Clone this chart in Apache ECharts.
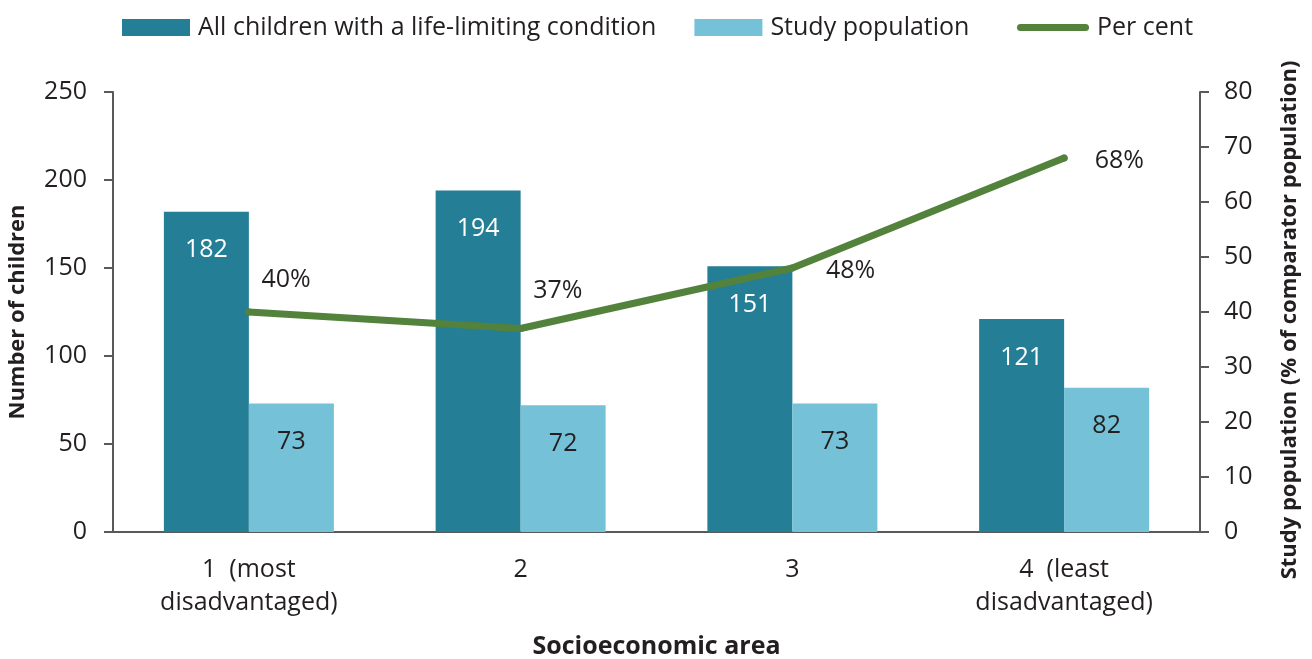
<!DOCTYPE html>
<html lang="en">

<head>
    <meta charset="UTF-8">
    <title>Socioeconomic area</title>
    <style>
        * {
            padding: 0;
            margin: 0;
            box-sizing: border-box;
        }

        html,
        body,
        .chart-container {
            width: 100%;
            height: 100%;
            background: #fff;
        }
    </style>
</head>

<body>
    <div id="chart-container" class="chart-container"></div>
</body>

</html>
<script src="https://cdn.jsdelivr.net/npm/echarts@6/dist/echarts.min.js"></script>

<script>
    // categories and values
    const categories = ['1  (most\ndisadvantaged)', '2', '3', '4  (least\ndisadvantaged)']
    const allChildren = [182, 194, 151, 121]
    const studyPopulation = [73, 72, 73, 82]
    const perCent = [40, 37, 48, 68]

    // per cent label offsets (style only)
    const perCentLabelOffset = [[9, -32], [9, -38], [30, 3], [27, 3]]

    const textColor = '#231f20'
    const axisColor = '#595959'
    const lineColor = '#52823c'
    const font = 'Open Sans'

    var myChart = echarts.init(document.getElementById('chart-container'))

    var legendText = {
        fontFamily: font,
        fontSize: 25,
        color: textColor,
        padding: [0, 0, 0, 3]
    }

    var option = {
        backgroundColor: '#fff',
        textStyle: { fontFamily: font },
        legend: [{
                left: 117,
                top: 10,
                itemWidth: 68,
                itemHeight: 17,
                itemGap: 38,
                textStyle: legendText,
                data: [
                    { name: 'All children with a life-limiting condition', icon: 'rect' },
                    { name: 'Study population', icon: 'rect' }
                ]
            },
            {
                left: 1012,
                top: 10,
                itemWidth: 72,
                itemHeight: 17,
                textStyle: legendText,
                data: [{
                    name: 'Per cent',
                    // thick line with round ends
                    icon: 'path://M3.5,0 L68.5,0 A3.5,3.5 0 0 1 68.5,7 L3.5,7 A3.5,3.5 0 0 1 3.5,0 Z',
                    itemStyle: { color: lineColor }
                }]
            }
        ],
        grid: {
            left: 113,
            right: 112,
            top: 92,
            bottom: 127,
            containLabel: false,
            outerBoundsMode: 'none'
        },
        xAxis: {
            type: 'category',
            data: categories,
            name: 'Socioeconomic area',
            nameLocation: 'middle',
            nameGap: 102,
            nameTextStyle: {
                fontFamily: font,
                fontSize: 25,
                fontWeight: 'bold',
                color: textColor
            },
            axisLine: { lineStyle: { color: axisColor, width: 2 } },
            axisTick: { show: false },
            axisLabel: {
                fontFamily: font,
                fontSize: 25,
                color: textColor,
                lineHeight: 33,
                margin: 21,
                interval: 0
            }
        },
        yAxis: [{
                type: 'value',
                min: 0,
                max: 250,
                interval: 50,
                name: 'Number of children',
                nameLocation: 'middle',
                nameGap: 84,
                nameTextStyle: {
                    fontFamily: font,
                    fontSize: 22,
                    fontWeight: 'bold',
                    color: textColor
                },
                axisLine: { show: true, lineStyle: { color: axisColor, width: 2 } },
                axisTick: { show: true, length: 9, lineStyle: { color: axisColor, width: 2 } },
                axisLabel: {
                    fontFamily: font,
                    fontSize: 25,
                    color: textColor,
                    margin: 26
                },
                splitLine: { show: false }
            },
            {
                type: 'value',
                min: 0,
                max: 80,
                interval: 10,
                position: 'right',
                name: 'Study population (% of comparator population)',
                nameLocation: 'middle',
                nameGap: 79,
                nameTextStyle: {
                    fontFamily: font,
                    fontSize: 22,
                    fontWeight: 'bold',
                    color: textColor,
                    padding: [0, 16, 0, 0]
                },
                axisLine: { show: true, lineStyle: { color: axisColor, width: 2 } },
                axisTick: { show: true, length: 9, lineStyle: { color: axisColor, width: 2 } },
                axisLabel: {
                    fontFamily: font,
                    fontSize: 25,
                    color: textColor,
                    margin: 24
                },
                splitLine: { show: false }
            }
        ],
        series: [{
                name: 'All children with a life-limiting condition',
                type: 'bar',
                data: allChildren,
                barWidth: 85,
                barGap: '0%',
                itemStyle: { color: '#247e95' },
                label: {
                    show: true,
                    position: 'insideTop',
                    distance: 26,
                    fontFamily: font,
                    fontSize: 25,
                    color: '#fff'
                }
            },
            {
                name: 'Study population',
                type: 'bar',
                data: studyPopulation,
                barWidth: 85,
                barGap: '0%',
                itemStyle: { color: '#75c1d8' },
                label: {
                    show: true,
                    position: 'insideTop',
                    distance: 26,
                    fontFamily: font,
                    fontSize: 25,
                    color: textColor
                }
            },
            {
                name: 'Per cent',
                type: 'line',
                yAxisIndex: 1,
                z: 5,
                symbol: 'circle',
                symbolSize: 7,
                showSymbol: true,
                itemStyle: { color: lineColor },
                lineStyle: { color: lineColor, width: 7, cap: 'round', join: 'round' },
                data: perCent.map((v, i) => ({
                    value: v,
                    label: { offset: perCentLabelOffset[i] }
                })),
                label: {
                    show: true,
                    position: 'right',
                    distance: 0,
                    formatter: '{c}%',
                    fontFamily: font,
                    fontSize: 25,
                    color: textColor
                }
            }
        ]
    }

    myChart.setOption(option)
</script>
